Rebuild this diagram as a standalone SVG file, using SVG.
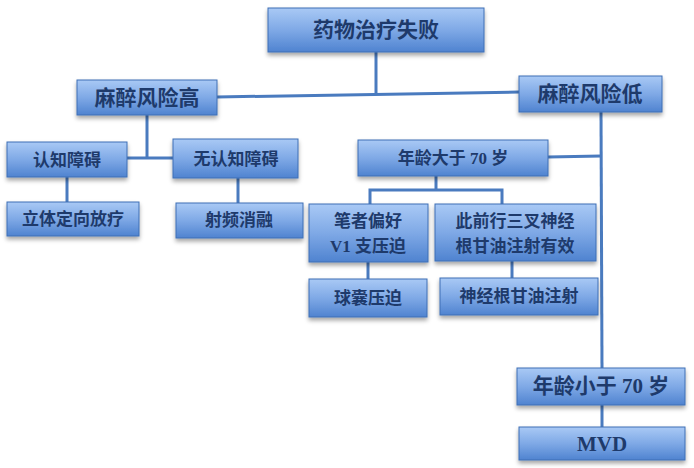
<svg xmlns="http://www.w3.org/2000/svg" width="694" height="468" viewBox="0 0 694 468">
<defs>
<linearGradient id="g" x1="0" y1="0" x2="0" y2="1">
<stop offset="0" stop-color="#a9c9f5"/>
<stop offset="0.5" stop-color="#7fa9e6"/>
<stop offset="1" stop-color="#4f83d0"/>
</linearGradient>
<filter id="sh" x="-10%" y="-20%" width="120%" height="160%">
<feDropShadow dx="0" dy="3" stdDeviation="2" flood-color="#000" flood-opacity="0.35"/>
</filter>
</defs>
<style>
.box{fill:url(#g);stroke:#3f6fb5;stroke-width:1;filter:url(#sh)}
.t{font-family:"Liberation Serif","Noto Sans CJK SC",serif;fill:#1e3a6b;text-anchor:middle;dominant-baseline:central;font-size:17px;font-weight:bold}
.big{font-size:21px}
.c{stroke:#4a7bbf;stroke-width:3;fill:none}
</style>
<rect width="694" height="468" fill="#fff"/>
<g id="connectors">
<line class="c" x1="376" y1="52" x2="376" y2="95"/>
<line class="c" x1="217" y1="97" x2="519" y2="92"/>
<line class="c" x1="147" y1="115" x2="147" y2="158"/>
<line class="c" x1="127" y1="158" x2="173" y2="158"/>
<line class="c" x1="67" y1="177" x2="67" y2="202"/>
<line class="c" x1="238" y1="178" x2="238" y2="203"/>
<line class="c" x1="601" y1="112" x2="602" y2="368"/>
<line class="c" x1="548" y1="157" x2="601" y2="156"/>
<line class="c" x1="436" y1="176" x2="436" y2="190"/>
<polyline class="c" points="370,204 370,190 502,190 502,204"/>
<line class="c" x1="368" y1="262" x2="368" y2="279"/>
<line class="c" x1="512" y1="261" x2="512" y2="278"/>
<line class="c" x1="602" y1="405" x2="602" y2="427"/>
</g>
<g id="n1"><rect class="box" x="268" y="8" width="216" height="44"/><text class="t big" x="376" y="30">药物治疗失败</text></g>
<g id="n2"><rect class="box" x="77" y="80" width="140" height="35"/><text class="t big" x="147" y="98">麻醉风险高</text></g>
<g id="n3"><rect class="box" x="519" y="76" width="143" height="36"/><text class="t big" x="590" y="94">麻醉风险低</text></g>
<g id="n4"><rect class="box" x="7" y="142" width="120" height="35"/><text class="t" x="67" y="160">认知障碍</text></g>
<g id="n5"><rect class="box" x="173" y="139" width="125" height="39"/><text class="t" x="236" y="159">无认知障碍</text></g>
<g id="n6"><rect class="box" x="7" y="202" width="132" height="34"/><text class="t" x="73" y="219">立体定向放疗</text></g>
<g id="n7"><rect class="box" x="176" y="203" width="127" height="35"/><text class="t" x="239" y="220">射频消融</text></g>
<g id="n8"><rect class="box" x="358" y="140" width="190" height="36"/><text class="t" x="453" y="158">年龄大于 70 岁</text></g>
<g id="n9"><rect class="box" x="309" y="204" width="119" height="58"/><text class="t" x="368" y="221">笔者偏好</text><text class="t" x="368" y="246">V1 支压迫</text></g>
<g id="n10"><rect class="box" x="435" y="204" width="161" height="57"/><text class="t" x="515" y="221">此前行三叉神经</text><text class="t" x="515" y="246">根甘油注射有效</text></g>
<g id="n11"><rect class="box" x="309" y="279" width="118" height="38"/><text class="t" x="368" y="298">球囊压迫</text></g>
<g id="n12"><rect class="box" x="440" y="278" width="158" height="37"/><text class="t" x="519" y="296">神经根甘油注射</text></g>
<g id="n13"><rect class="box" x="517" y="368" width="168" height="37"/><text class="t big" x="601" y="386">年龄小于 70 岁</text></g>
<g id="n14"><rect class="box" x="519" y="427" width="166" height="33"/><text class="t big" x="602" y="444">MVD</text></g>
</svg>
